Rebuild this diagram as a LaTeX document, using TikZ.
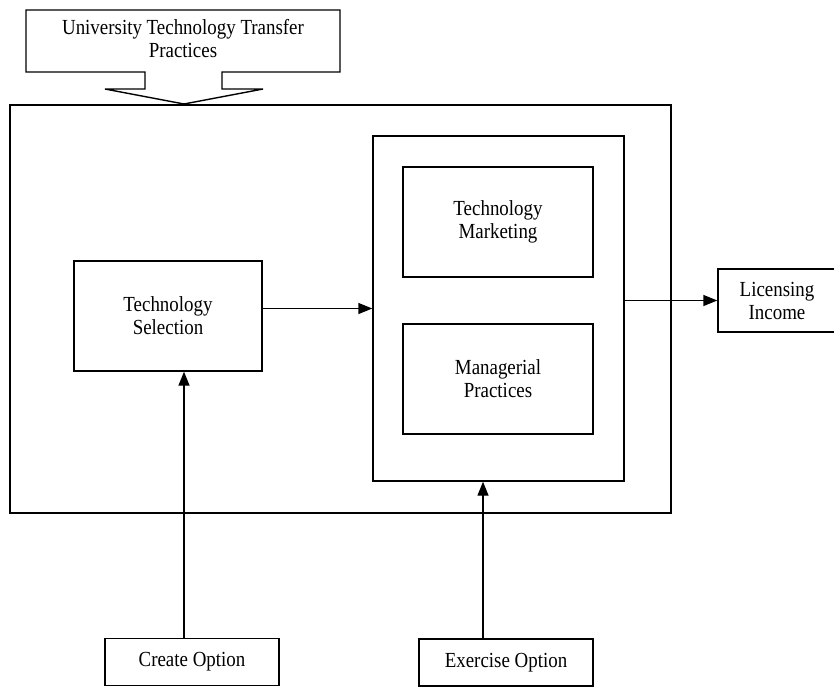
\documentclass[tikz,border=0pt]{standalone}
\usepackage{fontspec}
\setmainfont{Liberation Serif}[FakeStretch=0.88]
\usetikzlibrary{arrows.meta}

\begin{document}
\begin{tikzpicture}
      [x=1pt, y=-1pt, line width=1.4pt,
       >={Triangle[length=14pt, width=11pt]},
       lbl/.style={align=center, inner sep=0pt, font=\fontsize{21.5}{23}\selectfont},
       box/.style={draw, lbl}]
      \useasboundingbox (0, 0) rectangle (834, 686);

      \draw (26, 10) -- (340, 10) -- (340, 72) -- (222, 72) -- (222, 89) -- (263, 89)
            -- (184, 104) -- (105, 89) -- (145, 89) -- (145, 72) -- (26, 72) -- cycle;
      \node[lbl](1) at (183, 39) {University Technology Transfer\\Practices};

      \node[box, minimum width=661, minimum height=408](2) at (340.5, 309) {};
      \node[box, minimum width=188, minimum height=110](3) at (168, 316) {Technology\\Selection};
      \node[box, minimum width=251, minimum height=345](4) at (498.5, 308.5) {};
      \node[box, minimum width=190, minimum height=110](5) at (498, 222) {Technology\\Marketing};
      \node[box, minimum width=190, minimum height=110](6) at (498, 379) {Managerial\\Practices};
      \node[box, minimum width=118, minimum height=63](7) at (777, 300.5) {Licensing\\Income};
      \node[box, minimum width=174, minimum height=47](8) at (192, 662) {Create Option};
      \node[box, minimum width=174, minimum height=47](9) at (506, 662.5) {Exercise Option};

      \draw[->](3.east |- 4.west) -- (4.west);
      \draw[->](4.east |- 7.west) -- (7.west);
      \draw[->]([xshift=-8pt]8.north) -- ([xshift=-8pt]8.north |- 3.south);
      \draw[->]([xshift=-23pt]9.north) -- ([xshift=-23pt]9.north |- 4.south);
\end{tikzpicture}
\end{document}
